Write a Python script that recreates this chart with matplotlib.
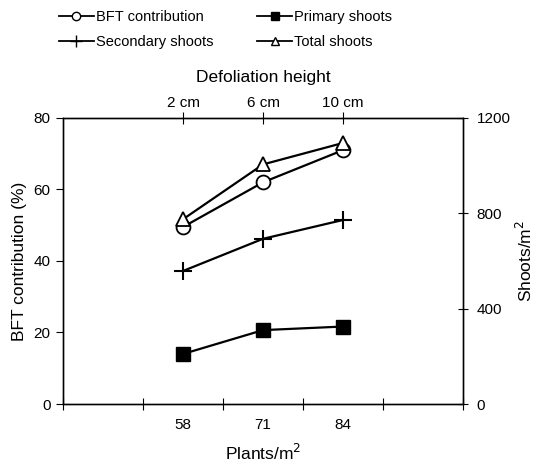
import numpy as np
import matplotlib
matplotlib.use("Agg")
import matplotlib.pyplot as plt
from matplotlib.lines import Line2D

plt.rcParams['font.family'] = ['Liberation Sans', 'DejaVu Sans']

# data
plants = ['58', '71', '84']
heights = ['2 cm', '6 cm', '10 cm']
bft = [49.5, 62, 71]             # %
primary = [210, 310, 325]        # shoots/m2
secondary = [558, 693, 772]
total = [775, 1005, 1095]

xpos = np.arange(len(plants)) + 1.5

fig = plt.figure(figsize=(5.38, 4.66), dpi=100)
ax = fig.add_axes([0.117, 0.133, 0.744, 0.614])
ax2 = ax.twinx()
ax3 = ax.twiny()

lw = 1.6
ms = 10
ax.plot(xpos, bft, color='black', lw=lw, marker='o', ms=ms, mfc='white', mec='black', mew=1.3, zorder=3)
ax2.plot(xpos, primary, color='black', lw=lw, marker='s', ms=ms, mfc='black', mec='black')
ax2.plot(xpos, secondary, color='black', lw=lw, marker='+', ms=ms + 3, mew=1.5)
ax2.plot(xpos, total, color='black', lw=lw, marker='^', ms=ms, mfc='white', mec='black', mew=1.3)

ax.set_xlim(0, 5)
ax.set_ylim(0, 80)
ax.set_yticks([0, 20, 40, 60, 80])
ax.set_xticks([0, 1, 2, 3, 4, 5])
ax.set_xticklabels([])
ax.set_xticks(xpos, minor=True)
ax.set_xticklabels(plants, minor=True)
ax.tick_params(axis='x', which='minor', length=0, pad=10, labelsize=11)
ax.tick_params(axis='x', which='major', direction='inout', length=8)
ax.tick_params(axis='y', direction='out', length=5, labelsize=11, pad=4)
ax.set_xlabel('Plants/m$^2$', fontsize=12.5, labelpad=8)
ax.set_ylabel('BFT contribution (%)', fontsize=12.5, labelpad=5)

ax2.set_ylim(0, 1200)
ax2.set_yticks([0, 400, 800, 1200])
ax2.tick_params(axis='y', direction='inout', length=7, labelsize=11, pad=6)
ax2.set_ylabel('Shoots/m$^2$', fontsize=12.5, labelpad=3)

ax3.set_xlim(0, 5)
ax3.set_xticks(xpos)
ax3.set_xticklabels(heights)
ax3.tick_params(axis='x', direction='inout', length=8, labelsize=11, pad=2)
ax3.set_xlabel('Defoliation height', fontsize=12.5, labelpad=10)

for a in (ax, ax2, ax3):
    for s in a.spines.values():
        s.set_linewidth(0.9)

handles = [
    Line2D([], [], color='black', lw=1.3, marker='o', ms=6, mfc='white', mec='black'),
    Line2D([], [], color='black', lw=1.3, marker='+', ms=8),
    Line2D([], [], color='black', lw=1.3, marker='s', ms=6, mfc='black'),
    Line2D([], [], color='black', lw=1.3, marker='^', ms=6, mfc='white', mec='black'),
]
labels = ['BFT contribution', 'Secondary shoots', 'Primary shoots', 'Total shoots']
fig.legend(handles, labels, loc='upper left', bbox_to_anchor=(0.09, 1.0), ncol=2,
           frameon=False, fontsize=10.5, handlelength=2.4, handletextpad=0.15,
           columnspacing=3.0, labelspacing=0.75, borderaxespad=0.3)

fig.savefig('out.png', dpi=100)
